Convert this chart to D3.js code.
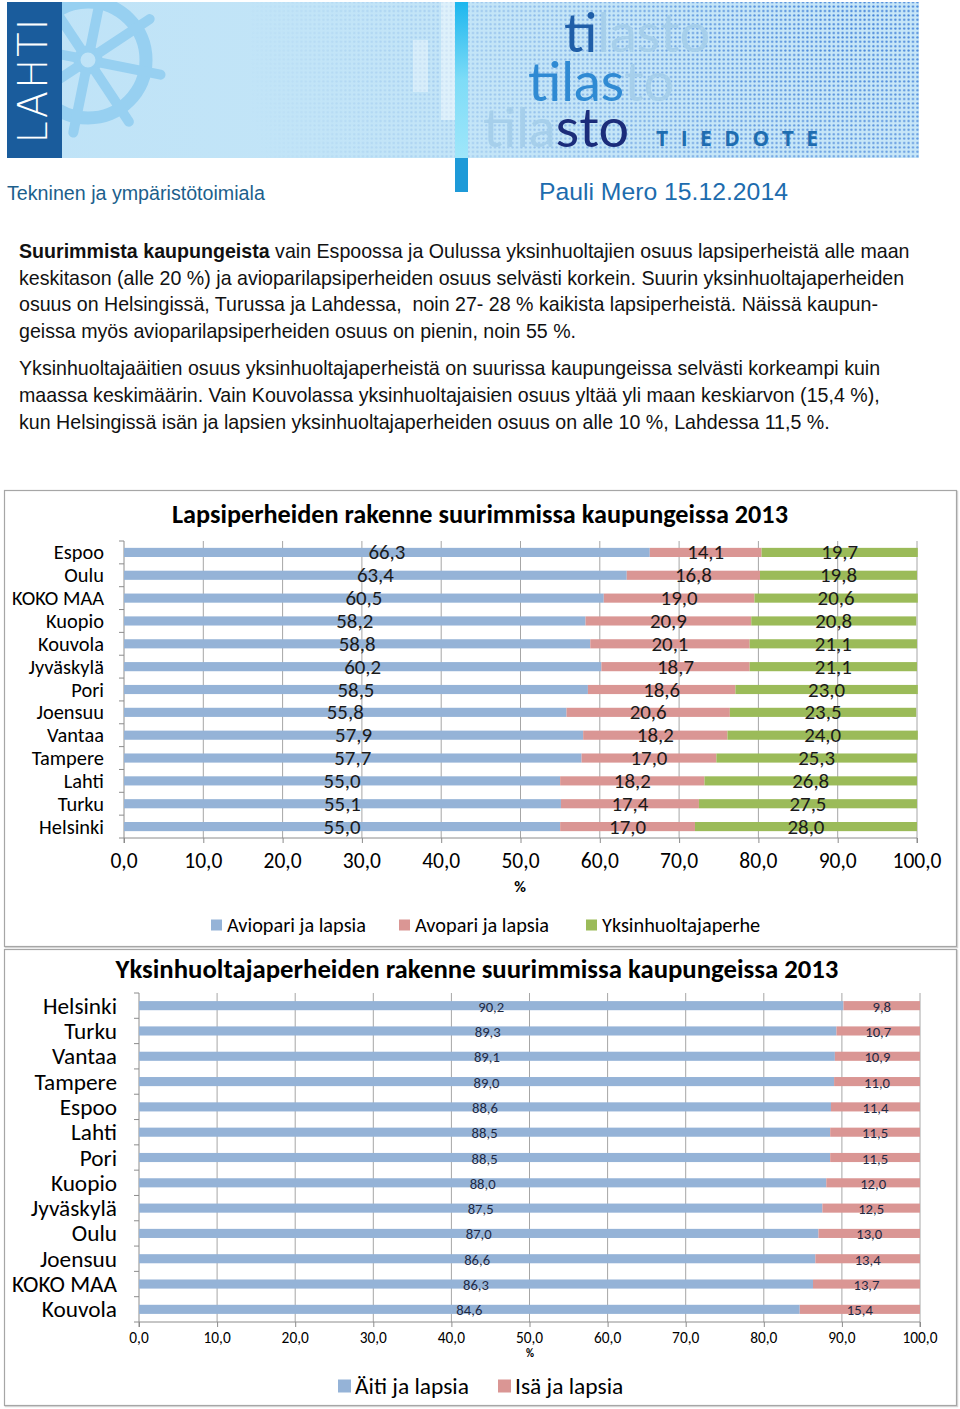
<!DOCTYPE html>
<html><head><meta charset="utf-8">
<script src="https://cdn.jsdelivr.net/npm/d3@7"></script>
<style>body{margin:0;background:#fff} svg{display:block}</style>
</head><body><svg id="c" width="960" height="1409"></svg>
<script>
// ---------- DATA ----------
const cities1 = ["Espoo","Oulu","KOKO MAA","Kuopio","Kouvola","Jyväskylä","Pori","Joensuu","Vantaa","Tampere","Lahti","Turku","Helsinki"];
const aviopari = [66.3,63.4,60.5,58.2,58.8,60.2,58.5,55.8,57.9,57.7,55.0,55.1,55.0];
const avopari  = [14.1,16.8,19.0,20.9,20.1,18.7,18.6,20.6,18.2,17.0,18.2,17.4,17.0];
const yksin    = [19.7,19.8,20.6,20.8,21.1,21.1,23.0,23.5,24.0,25.3,26.8,27.5,28.0];
const series1  = ["Aviopari ja lapsia","Avopari ja lapsia","Yksinhuoltajaperhe"];
const title1   = "Lapsiperheiden rakenne suurimmissa kaupungeissa 2013";

const cities2 = ["Helsinki","Turku","Vantaa","Tampere","Espoo","Lahti","Pori","Kuopio","Jyväskylä","Oulu","Joensuu","KOKO MAA","Kouvola"];
const aiti = [90.2,89.3,89.1,89.0,88.6,88.5,88.5,88.0,87.5,87.0,86.6,86.3,84.6];
const isa  = [9.8,10.7,10.9,11.0,11.4,11.5,11.5,12.0,12.5,13.0,13.4,13.7,15.4];
const series2 = ["Äiti ja lapsia","Isä ja lapsia"];
const title2  = "Yksinhuoltajaperheiden rakenne suurimmissa kaupungeissa 2013";

const xTicks = [0,10,20,30,40,50,60,70,80,90,100];
const axisTitle = "%";

const para1 = [
  [["Suurimmista kaupungeista",true],[" vain Espoossa ja Oulussa yksinhuoltajien osuus lapsiperheistä alle maan",false]],
  [["keskitason (alle 20 %) ja avioparilapsiperheiden osuus selvästi korkein. Suurin yksinhuoltajaperheiden",false]],
  [["osuus on Helsingissä, Turussa ja Lahdessa,  noin 27- 28 % kaikista lapsiperheistä. Näissä kaupun-",false]],
  [["geissa myös avioparilapsiperheiden osuus on pienin, noin 55 %.",false]]
];
const para2 = [
  [["Yksinhuoltajaäitien osuus yksinhuoltajaperheistä on suurissa kaupungeissa selvästi korkeampi kuin",false]],
  [["maassa keskimäärin. Vain Kouvolassa yksinhuoltajaisien osuus yltää yli maan keskiarvon (15,4 %),",false]],
  [["kun Helsingissä isän ja lapsien yksinhuoltajaperheiden osuus on alle 10 %, Lahdessa 11,5 %.",false]]
];

// ---------- HELPERS ----------
const svg = d3.select("#c");
const CHART_FONT = "Carlito, Calibri, Lato, sans-serif";
const TEXT_FONT = "'Liberation Sans', Arial, sans-serif";
function sizeFor(str, family, weight, targetW){
  const t = svg.append("text").attr("font-family",family).attr("font-weight",weight).attr("font-size",100).text(str);
  const w = t.node().getComputedTextLength(); t.remove();
  return 100*targetW/w;
}
const fmt = v => d3.format(".1f")(v).replace(".",",");

// ---------- HEADER ----------
const defs = svg.append("defs");
const pat = defs.append("pattern").attr("id","dots").attr("patternUnits","userSpaceOnUse").attr("width",4.4).attr("height",4.4);
pat.append("circle").attr("cx",2.2).attr("cy",2.2).attr("r",1.15).attr("fill","#3a7cd6");
const rg = defs.append("radialGradient").attr("id","dm").attr("gradientUnits","userSpaceOnUse")
  .attr("cx",860).attr("cy",0).attr("r",620);
rg.append("stop").attr("offset",0).attr("stop-color","#fff");
rg.append("stop").attr("offset",0.3).attr("stop-color","#b0b0b0");
rg.append("stop").attr("offset",0.65).attr("stop-color","#404040");
rg.append("stop").attr("offset",1).attr("stop-color","#000");
defs.append("mask").attr("id","dmask").append("rect").attr("x",0).attr("y",0).attr("width",960).attr("height",160).attr("fill","url(#dm)");
const bg = defs.append("linearGradient").attr("id","bgg").attr("x1",0).attr("x2",1).attr("y1",0).attr("y2",0);
bg.append("stop").attr("offset",0).attr("stop-color","#bfe3f7");
bg.append("stop").attr("offset",1).attr("stop-color","#c8e7f8");
const cy = defs.append("linearGradient").attr("id","cyg").attr("x1",0).attr("x2",0).attr("y1",0).attr("y2",1);
cy.append("stop").attr("offset",0).attr("stop-color","#1cb6ee");
cy.append("stop").attr("offset",0.5).attr("stop-color","#7edcf7");
cy.append("stop").attr("offset",1).attr("stop-color","#9fe6fa");
defs.append("clipPath").attr("id","bclip").append("rect").attr("x",62).attr("y",2).attr("width",857).attr("height",156);

const hdr = svg.append("g");
hdr.append("rect").attr("x",7).attr("y",2).attr("width",912).attr("height",156).attr("fill","url(#bgg)");
// wheel
const wheel = hdr.append("g").attr("clip-path","url(#bclip)").attr("fill","none").attr("stroke","#97d0f1");
wheel.append("circle").attr("cx",88).attr("cy",60).attr("r",58).attr("stroke-width",13);
wheel.append("circle").attr("cx",88).attr("cy",60).attr("r",11).attr("stroke-width",7);
d3.range(8).forEach(i=>{
  const a = i*Math.PI/4 + 0.2;
  wheel.append("line").attr("x1",88+14*Math.cos(a)).attr("y1",60+14*Math.sin(a))
    .attr("x2",88+74*Math.cos(a)).attr("y2",60+74*Math.sin(a)).attr("stroke-width",10).attr("stroke-linecap","round");
});
// halftone dots
hdr.append("rect").attr("x",250).attr("y",2).attr("width",669).attr("height",156).attr("fill","url(#dots)").attr("mask","url(#dmask)");
// light stripes
hdr.append("rect").attr("x",413).attr("y",40).attr("width",15).attr("height",52).attr("fill","#fff").attr("opacity",0.35);
hdr.append("rect").attr("x",441).attr("y",2).attr("width",14).attr("height",118).attr("fill","#fff").attr("opacity",0.45);
hdr.append("rect").attr("x",455).attr("y",2).attr("width",13).attr("height",156).attr("fill","url(#cyg)");
hdr.append("rect").attr("x",455).attr("y",158).attr("width",13).attr("height",34).attr("fill","#1e9ad8");
// LAHTI box
hdr.append("rect").attr("x",7).attr("y",2).attr("width",55).attr("height",156).attr("fill","#1a5c9c");
hdr.append("text").attr("transform","translate(47,80) rotate(-90)").attr("text-anchor","middle")
  .attr("font-family","'DejaVu Sans', sans-serif").attr("font-weight",200).attr("font-size",40).attr("letter-spacing",2)
  .attr("fill","#fff").text("LAHTI");
// tilasto
const tf = "Lato, 'Open Sans', sans-serif", faded = "#a6cfeb";
const r1 = hdr.append("text").attr("x",564).attr("y",52).attr("font-family",tf).attr("font-size",54);
r1.append("tspan").attr("fill","#1f5ea8").text("ti");
r1.append("tspan").attr("fill",faded).text("lasto");
const r2 = hdr.append("text").attr("x",528).attr("y",101).attr("font-family",tf).attr("font-size",54);
r2.append("tspan").attr("fill","#2f8ad3").text("tilas");
r2.append("tspan").attr("fill",faded).text("to");
const r3 = hdr.append("text").attr("x",483).attr("y",147).attr("font-family",tf).attr("font-size",54);
r3.append("tspan").attr("fill",faded).text("tila");
r3.append("tspan").attr("fill","#1b2c7a").text("sto");
hdr.append("text").attr("x",656).attr("y",146).attr("font-family","'Open Sans', sans-serif").attr("font-weight",700)
  .attr("font-size",21).attr("letter-spacing",12.5).attr("fill","#1e6db0").text("TIEDOTE");
hdr.append("text").attr("x",7).attr("y",200).attr("font-family",TEXT_FONT).attr("font-size",sizeFor("Tekninen ja ympäristötoimiala",TEXT_FONT,400,258))
  .attr("fill","#1c5f8c").text("Tekninen ja ympäristötoimiala");
hdr.append("text").attr("x",539).attr("y",200).attr("font-family",TEXT_FONT).attr("font-size",sizeFor("Pauli Mero 15.12.2014",TEXT_FONT,400,249))
  .attr("fill","#1d6cae").text("Pauli Mero 15.12.2014");

// ---------- PARAGRAPHS ----------
const pSize = (()=>{ const t = svg.append("text").attr("font-family",TEXT_FONT).attr("font-size",100);
  para1[0].forEach(([s,b])=>t.append("tspan").attr("font-weight",b?700:400).text(s));
  const w=t.node().getComputedTextLength(); t.remove(); return 100*891/w; })();
function drawPara(lines, y0, dy){
  lines.forEach((segs,i)=>{
    const t = svg.append("text").attr("x",19).attr("y",y0+i*dy).attr("font-family",TEXT_FONT).attr("font-size",pSize).attr("fill","#111").style("white-space","pre");
    segs.forEach(([s,b])=>t.append("tspan").attr("font-weight",b?700:400).text(s));
  });
}
drawPara(para1, 258, 26.5);
drawPara(para2, 375, 27);

// ---------- CHART ----------
function drawChart(cfg){
  const g = svg.append("g");
  g.append("rect").attr("x",cfg.frame[0]+1).attr("y",cfg.frame[1]+1).attr("width",cfg.frame[2]).attr("height",cfg.frame[3])
    .attr("fill","none").attr("stroke","#d9d9d9").attr("stroke-width",1.5);
  g.append("rect").attr("x",cfg.frame[0]).attr("y",cfg.frame[1]).attr("width",cfg.frame[2]).attr("height",cfg.frame[3])
    .attr("fill","#fff").attr("stroke","#a6a6a6").attr("stroke-width",1.2);
  g.append("text").attr("x",cfg.titleX).attr("y",cfg.titleY).attr("text-anchor","middle").attr("dominant-baseline","central")
    .attr("font-family",CHART_FONT).attr("font-weight",700).attr("font-size",sizeFor(cfg.title,CHART_FONT,700,cfg.titleW))
    .attr("fill","#000").text(cfg.title);
  const x = d3.scaleLinear().domain([0,100]).range([cfg.x0,cfg.x1]);
  const y = d3.scaleBand().domain(cfg.cats).range([cfg.top,cfg.bottom]).paddingInner(cfg.pad).paddingOuter(cfg.pad/2);
  // gridlines
  g.append("g").selectAll("line").data(xTicks.slice(1)).join("line")
    .attr("x1",d=>x(d)).attr("x2",d=>x(d)).attr("y1",cfg.top).attr("y2",cfg.bottom).attr("stroke","#a6a6a6").attr("stroke-width",1);
  // x axis
  const xa = g.append("g").attr("transform",`translate(0,${cfg.bottom})`)
    .call(d3.axisBottom(x).tickValues(xTicks).tickSize(5).tickPadding(0).tickFormat(()=>""));
  xa.selectAll("path,line").attr("stroke","#8c8c8c");
  xa.select(".domain").attr("d",`M${cfg.x0},5V0H${cfg.x1}V5`);
  const tickFs = sizeFor("100,0",CHART_FONT,400,cfg.tickW);
  g.append("g").selectAll("text").data(xTicks).join("text")
    .attr("x",d=>x(d)).attr("y",cfg.tickY).attr("text-anchor","middle").attr("dominant-baseline","central")
    .attr("font-family",CHART_FONT).attr("font-size",tickFs).attr("fill","#000").text(d=>fmt(d));
  g.append("text").attr("x",cfg.pctX).attr("y",cfg.pctY).attr("text-anchor","middle").attr("dominant-baseline","central")
    .attr("font-family",CHART_FONT).attr("font-weight",700).attr("font-size",cfg.pctFs).attr("fill","#000").text(axisTitle);
  // y axis
  const ya = g.append("g").attr("transform",`translate(${cfg.x0},0)`);
  ya.append("line").attr("x1",0).attr("x2",0).attr("y1",cfg.top).attr("y2",cfg.bottom).attr("stroke","#8c8c8c");
  ya.selectAll("line.t").data(d3.range(cfg.cats.length+1)).join("line").attr("class","t")
    .attr("x1",-5).attr("x2",0).attr("y1",i=>cfg.top+i*(cfg.bottom-cfg.top)/cfg.cats.length).attr("y2",i=>cfg.top+i*(cfg.bottom-cfg.top)/cfg.cats.length)
    .attr("stroke","#8c8c8c");
  const catFs = sizeFor("KOKO MAA",CHART_FONT,400,cfg.catW);
  g.append("g").selectAll("text").data(cfg.cats).join("text")
    .attr("x",cfg.catX).attr("y",d=>y(d)+y.bandwidth()/2).attr("text-anchor","end").attr("dominant-baseline","central")
    .attr("font-family",CHART_FONT).attr("font-size",catFs).attr("fill","#000").text(d=>d);
  // stacked bars
  const table = cfg.cats.map((c,i)=>{ const o={cat:c}; cfg.keys.forEach((k,j)=>o[k]=cfg.values[j][i]); return o; });
  const stacked = d3.stack().keys(cfg.keys)(table);
  const color = d3.scaleOrdinal().domain(cfg.keys).range(cfg.colors);
  const lblFs = sizeFor(cfg.lblRef,CHART_FONT,400,cfg.lblW);
  stacked.forEach(s=>{
    g.append("g").selectAll("rect").data(s).join("rect")
      .attr("x",d=>x(d[0])).attr("width",d=>x(d[1])-x(d[0]))
      .attr("y",d=>y(d.data.cat)).attr("height",y.bandwidth()).attr("fill",color(s.key));
  });
  stacked.forEach(s=>{
    g.append("g").selectAll("text").data(s).join("text")
      .attr("x",d=>x((d[0]+d[1])/2)).attr("y",d=>y(d.data.cat)+y.bandwidth()/2+cfg.lblDy)
      .attr("text-anchor","middle").attr("dominant-baseline","central")
      .attr("font-family",CHART_FONT).attr("font-size",lblFs).attr("fill",cfg.lblColor).text(d=>fmt(d[1]-d[0]));
  });
  // legend
  const legFs = sizeFor(cfg.keys[0],CHART_FONT,400,cfg.legW);
  cfg.keys.forEach((k,i)=>{
    g.append("rect").attr("x",cfg.legX[i]).attr("y",cfg.legY-cfg.legSq/2).attr("width",cfg.legSq).attr("height",cfg.legSq).attr("fill",color(k));
    g.append("text").attr("x",cfg.legX[i]+cfg.legSq+cfg.legGap).attr("y",cfg.legY).attr("dominant-baseline","central")
      .attr("font-family",CHART_FONT).attr("font-size",legFs).attr("fill","#000").text(k);
  });
}

drawChart({
  frame:[4.5,490.5,952,456], title:title1, titleX:480, titleY:514, titleW:616,
  x0:124, x1:917, top:541, bottom:838, pad:0.6, cats:cities1,
  keys:series1, values:[aviopari,avopari,yksin], colors:["#95b3d7","#da9694","#9bbb59"],
  catX:104, catW:92, tickY:861, tickW:49, pctX:520, pctY:886, pctFs:16,
  lblRef:"66,3", lblW:37, lblDy:0, lblColor:"#1a1a1a",
  legX:[211,399,586], legY:925, legSq:11, legGap:5, legW:139
});
drawChart({
  frame:[4.5,949.5,952,456], title:title2, titleX:477, titleY:969, titleW:723,
  x0:139, x1:920, top:993, bottom:1322, pad:0.64, cats:cities2,
  keys:series2, values:[aiti,isa], colors:["#95b3d7","#da9694"],
  catX:117, catW:105, tickY:1337, tickW:35, pctX:530, pctY:1353, pctFs:11,
  lblRef:"90,2", lblW:26, lblDy:1, lblColor:"#1f2a44",
  legX:[338,498], legY:1386, legSq:13, legGap:4, legW:114
});
</script></body></html>
